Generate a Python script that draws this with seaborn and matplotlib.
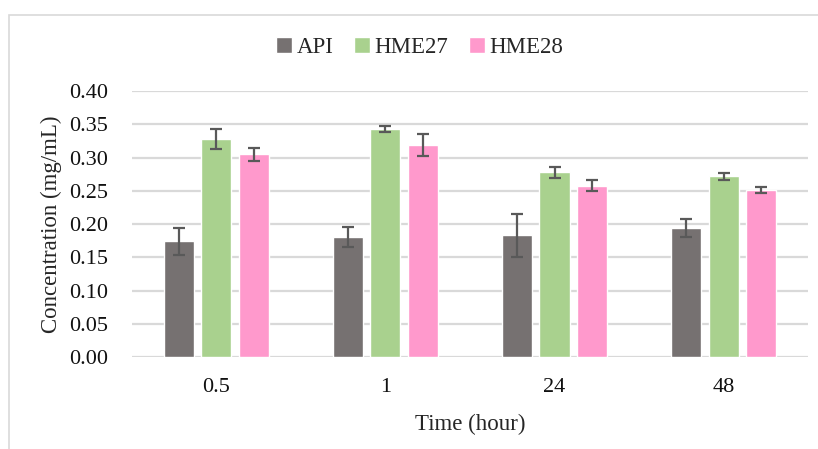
import numpy as np
import pandas as pd
import matplotlib
matplotlib.use("Agg")
import matplotlib.pyplot as plt
import seaborn as sns
from matplotlib.patches import Rectangle

# Data
times = ["0.5", "1", "24", "48"]
series = ["API", "HME27", "HME28"]
api = [0.174, 0.181, 0.183, 0.194]
hme27 = [0.328, 0.343, 0.278, 0.272]
hme28 = [0.305, 0.319, 0.258, 0.251]
api_err = [0.020, 0.015, 0.032, 0.013]
hme27_err = [0.015, 0.005, 0.008, 0.005]
hme28_err = [0.010, 0.016, 0.008, 0.005]

colors = ["#767171", "#A9D18E", "#FF99CC"]

df = pd.DataFrame({
    "time": times * 3,
    "group": [s for s in series for _ in times],
    "conc": api + hme27 + hme28,
    "err": api_err + hme27_err + hme28_err,
})

sns.set_style("white")
plt.rcParams["font.family"] = ["Liberation Serif", "DejaVu Serif"]

fig = plt.figure(figsize=(8.18, 4.49), dpi=100)
ax = fig.add_axes([0.161, 0.205, 0.827, 0.592])

sns.barplot(data=df, x="time", y="conc", hue="group", order=times,
            hue_order=series, palette=colors, width=0.666, gap=0.2,
            errorbar=None, saturation=1, ax=ax, zorder=3)

# error bars at bar centres
for cont, s in zip(ax.containers, series):
    sub = df[df["group"] == s]
    xs = [p.get_x() + p.get_width() / 2 for p in cont.patches]
    ax.errorbar(xs, sub["conc"].values, yerr=sub["err"].values, fmt="none",
                ecolor="#595959", elinewidth=1.6, capsize=4.5, capthick=1.6, zorder=4)

ax.set_ylim(0, 0.40)
ax.set_xlim(-0.5, 3.5)
ax.set_yticks(np.arange(0, 0.41, 0.05))
ax.set_yticklabels([f"{v:.2f}" for v in np.arange(0, 0.41, 0.05)])
ax.yaxis.grid(True, color="#D9D9D9", linewidth=1.6, zorder=0)
ax.set_axisbelow(True)
for sp in ax.spines.values():
    sp.set_visible(False)
ax.tick_params(axis="both", length=0, labelsize=16, colors="#111111")
ax.tick_params(axis="x", pad=15)
ax.tick_params(axis="y", pad=17)
ax.set_xlabel("Time (hour)", fontsize=16.5, labelpad=12)
ax.set_ylabel("Concentration (mg/mL)", fontsize=16.5, labelpad=5)

handles, labels = ax.get_legend_handles_labels()
ax.legend(handles, labels, loc="center", bbox_to_anchor=(0.513, 0.895),
          bbox_transform=fig.transFigure, ncol=3, frameon=False, fontsize=16.5,
          handlelength=0.7, handleheight=0.7, handletextpad=0.2,
          columnspacing=0.9)

fig.patches.append(Rectangle((9 / 818, -0.01), 1.0, 1 - 15 / 449 + 0.01,
                             transform=fig.transFigure, fill=False,
                             edgecolor="#D9D9D9", linewidth=1.2))

fig.savefig("out.png", dpi=100)
